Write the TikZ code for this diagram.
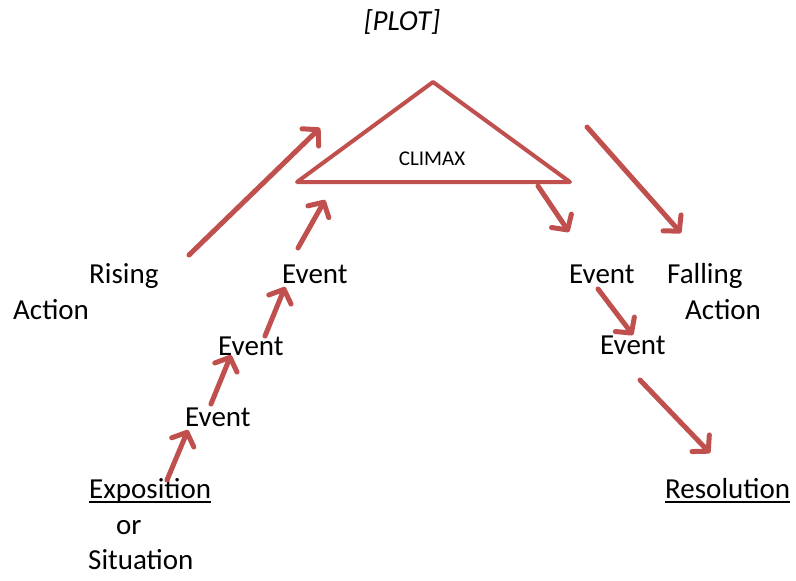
\documentclass[tikz,border=0pt]{standalone}
\usepackage{fontspec}
\setmainfont{Carlito}
\usetikzlibrary{arrows.meta}
\definecolor{plotred}{HTML}{C0504D}
\tikzset{
  lbl/.style={anchor=base west, inner sep=0pt, font=\fontsize{29}{34}\selectfont},
  uline/.style={line width=2pt},
  arr/.style={draw=plotred, line width=5pt, line cap=round,
     -{Straight Barb[length=11pt,width=24pt,round]}},
  tri/.style={draw=plotred, line width=4pt, line join=round}
}
\begin{document}
\begin{tikzpicture}[x=1pt,y=-1pt]
\useasboundingbox (0,0) rectangle (796,581);
% title
\node[inner sep=0pt, font=\fontsize{29}{34}\selectfont\itshape] (plot) at (402,22) {[PLOT]};
% climax triangle
\coordinate (apex) at (433,82);
\coordinate (tl) at (297,182);
\coordinate (tr) at (570,182);
\draw[tri] (apex) -- (tl) -- (tr) -- cycle;
\node[inner sep=0pt, font=\fontsize{21}{24}\selectfont] (climax) at (432,159) {CLIMAX};
% labels
\node[lbl] (rising) at (89,283) {Rising};
\node[lbl] (action1) at (13,319) {Action};
\node[lbl] (ev1) at (282,283) {Event};
\node[lbl] (ev2) at (218,355) {Event};
\node[lbl] (ev3) at (185,426) {Event};
\node[lbl] (expo) at (89,498) {Exposition};
\draw[uline] ([yshift=-4pt]expo.base west) -- ([yshift=-4pt]expo.base east);
\node[lbl] (or) at (116,534) {or};
\node[lbl] (situ) at (88,569) {Situation};
\node[lbl] (ev4) at (569,283) {Event};
\node[lbl] (falling) at (667,283) {Falling};
\node[lbl] (action2) at (685,319) {Action};
\node[lbl] (ev5) at (600,354) {Event};
\node[lbl] (reso) at (665,498) {Resolution};
\draw[uline] ([yshift=-4pt]reso.base west) -- ([yshift=-4pt]reso.base east);
% arrow end points
\coordinate (a1s) at (189,255); \coordinate (a1e) at (320,128);
\coordinate (a2s) at (298,248); \coordinate (a2e) at (325,200);
\coordinate (a3s) at (265,336); \coordinate (a3e) at (285,287);
\coordinate (a4s) at (211,404); \coordinate (a4e) at (231,355);
\coordinate (a5s) at (167,480); \coordinate (a5e) at (188,430);
\coordinate (a6s) at (538,186); \coordinate (a6e) at (569,232);
\coordinate (a7s) at (587,127); \coordinate (a7e) at (681,233);
\coordinate (a8s) at (598,289); \coordinate (a8e) at (633,335);
\coordinate (a9s) at (640,380); \coordinate (a9e) at (710,453);
\foreach \i in {1,...,9} { \draw[arr] (a\i s) -- (a\i e); }
\end{tikzpicture}
\end{document}
